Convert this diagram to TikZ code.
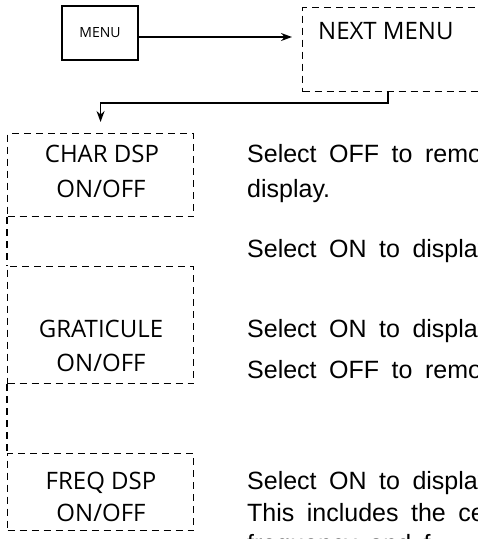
\documentclass[tikz,border=0pt]{standalone}
\usepackage{fontspec}
\setmainfont{Open Sans}
\newfontfamily\rtfamily[WordSpace=1.8]{Liberation Sans}
\newfontfamily\boxfamily{Open Sans}
\usetikzlibrary{arrows.meta}
\tikzset{
  solidbox/.style={draw, line width=1.6pt, inner sep=0pt},
  dashbox/.style={draw, line width=1.1pt, dash pattern=on 7pt off 5pt, inner sep=0pt},
  dashline/.style={line width=1.1pt, dash pattern=on 7pt off 5pt},
  conn/.style={line width=1.5pt, -{Stealth[length=11pt,width=8pt]}},
  lbl/.style={font=\boxfamily\fontsize{24}{28}\selectfont, inner sep=0pt, anchor=base},
  rt/.style={font=\rtfamily\fontsize{25}{30}\selectfont, inner sep=0pt, anchor=base west},
}
\begin{document}
\begin{tikzpicture}[x=1pt,y=-1pt]
\useasboundingbox (0,0) rectangle (478,539);
\clip (0,0) rectangle (478,539);
\fill[white] (0,0) rectangle (478,539);
% top boxes
\node[solidbox, minimum width=76pt, minimum height=54pt, font=\boxfamily\fontsize{14}{16}\selectfont] (menu) at (100,33) {MENU};
\node[dashbox, minimum width=200pt, minimum height=84pt, anchor=north west] (next) at (302,7) {};
\node[lbl, anchor=base west, font=\boxfamily\fontsize{24}{26}\selectfont] (nexttxt) at (318,39) {NEXT MENU};
% left boxes
\node[dashbox, minimum width=186pt, minimum height=83pt, anchor=north west] (chr) at (7,133) {};
\node[dashbox, minimum width=186pt, minimum height=117pt, anchor=north west] (grat) at (7,266) {};
\node[dashbox, minimum width=186pt, minimum height=77pt, anchor=north west] (freq) at (7,453) {};
\node[lbl] (chr1) at (102,162) {CHAR DSP};
\node[lbl] (chr2) at (101,197) {ON/OFF};
\node[lbl] (grat1) at (101,337) {GRATICULE};
\node[lbl] (grat2) at (101,371) {ON/OFF};
\node[lbl] (freq1) at (101,489) {FREQ DSP};
\node[lbl] (freq2) at (101,521) {ON/OFF};
% connectors
\draw[conn] ([yshift=-4pt]menu.east) -- ([yshift=-4pt,xshift=-10pt]menu.east -| next.west);
\draw[conn] (next.south west) ++(86,0) -- ++(0,11) -| ([yshift=11pt]chr.north);
\draw[dashline] (chr.south west) -- (grat.north west);
\draw[dashline] (grat.south west) -- (freq.north west);
% right texts
\node[rt] (t1) at (247,162) {Select OFF to remove};
\node[rt] (t2) at (247,197) {display.};
\node[rt] (t3) at (247,257) {Select ON to display};
\node[rt] (t4) at (247,337) {Select ON to display};
\node[rt] (t5) at (247,378) {Select OFF to remove};
\node[rt] (t6) at (247,489) {Select ON to display};
\node[rt] (t7) at (247,521) {This includes the center};
\node[rt] (t8) at (247,552) {frequency and f};
\end{tikzpicture}
\end{document}
